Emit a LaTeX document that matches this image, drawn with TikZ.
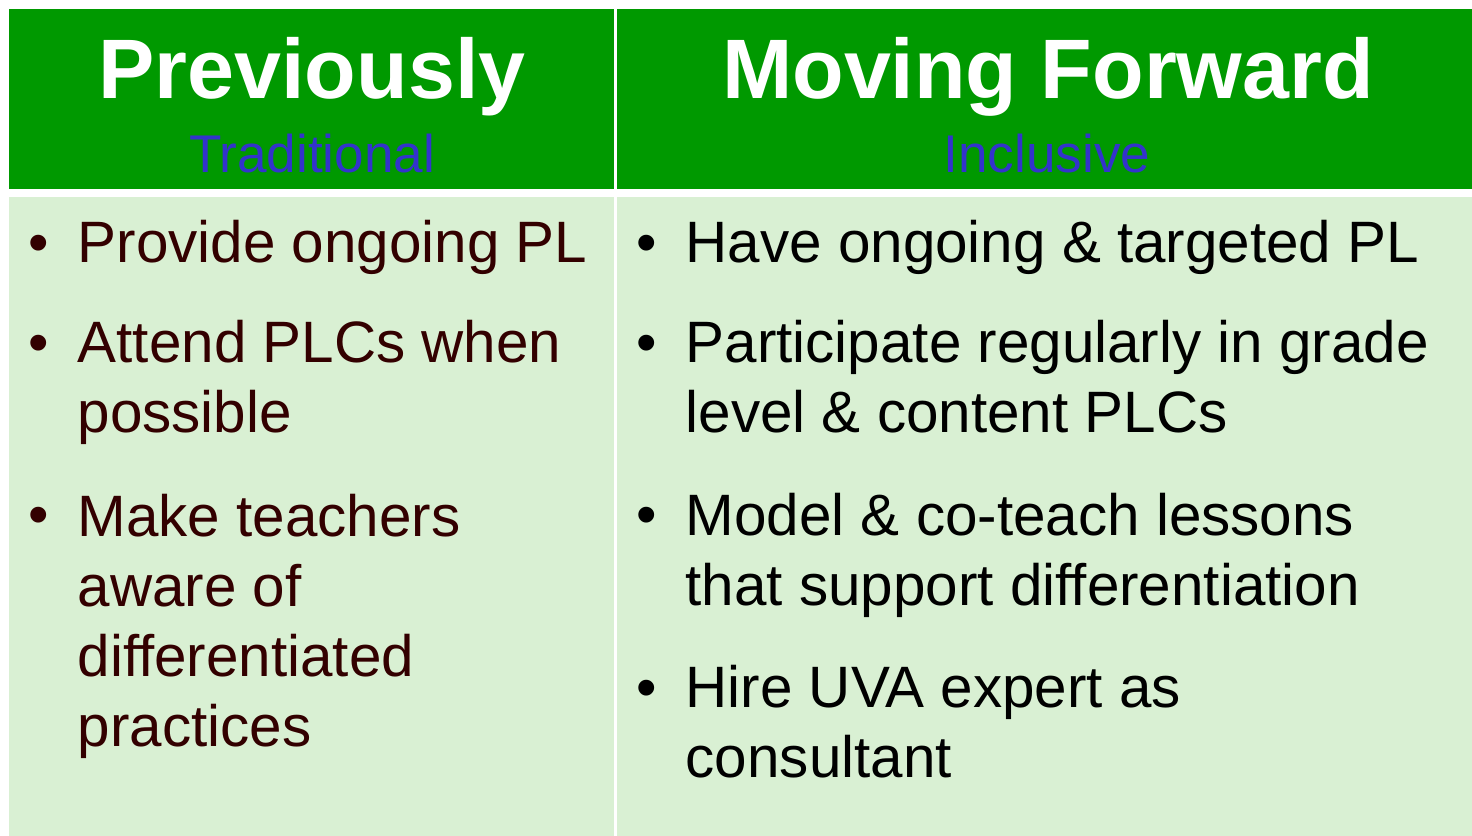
\documentclass[tikz,border=0pt]{standalone}
\usepackage{fontspec}
\setmainfont{Liberation Sans}
\usetikzlibrary{positioning}
\definecolor{headgreen}{RGB}{0,153,0}
\definecolor{bodygreen}{RGB}{217,240,211}
\definecolor{subblue}{RGB}{51,51,204}
\definecolor{olddark}{RGB}{51,0,0}
\newcommand{\itemfont}{\fontsize{16.6}{19.9}\selectfont}
\tikzset{
  headtext/.style={text=white, font=\fontsize{24}{29}\selectfont\bfseries, inner sep=0pt, anchor=base},
  subtext/.style={text=subblue, font=\fontsize{15.1}{18}\selectfont, inner sep=0pt, anchor=base},
  itemtext/.style={font=\itemfont, inner sep=0pt, anchor=base west, align=left},
  itemdot/.style={font=\itemfont, inner sep=0pt, anchor=base west},
}

\begin{document}
\begin{tikzpicture}[x=0.01cm, y=-0.01cm]

	% page
	\fill[white] (0,0) rectangle (1472,836);
	\useasboundingbox (0,0) rectangle (1472,836);

	% header cells
	\fill[headgreen] (9,9) rectangle (614,189);
	\fill[headgreen] (617,9) rectangle (1472,189);

	% body cells
	\fill[bodygreen] (9,197) rectangle (614,836);
	\fill[bodygreen] (617,197) rectangle (1472,836);

	% headings
	\node[headtext] (prev) at (312,98) {Previously};
	\node[subtext] (trad) at (312,172) {Traditional};
	\node[headtext] (fwd) at (1048,98) {Moving Forward};
	\node[subtext] (incl) at (1047,172) {Inclusive};

	% previously (multi-line items sit on their last line)
	\begin{scope}[text=olddark]
		\node[itemdot] (pdot1) at (28,262) {\textbullet};
		\node[itemtext] (pitem1) at (77,262) {Provide ongoing PL};
		\node[itemdot] (pdot2) at (28,362) {\textbullet};
		\node[itemtext] (pitem2) at (77,432) {Attend PLCs when\\possible};
		\node[itemdot] (pdot3) at (28,534) {\textbullet};
		\node[itemtext] (pitem3) at (77,746) {Make teachers\\aware of\\differentiated\\practices};
	\end{scope}

	% moving forward
	\begin{scope}[text=black]
		\node[itemdot] (fdot1) at (636,262) {\textbullet};
		\node[itemtext] (fitem1) at (685,262) {Have ongoing \& targeted PL};
		\node[itemdot] (fdot2) at (636,362) {\textbullet};
		\node[itemtext] (fitem2) at (685,432) {Participate regularly in grade\\level \& content PLCs};
		\node[itemdot] (fdot3) at (636,534) {\textbullet};
		\node[itemtext] (fitem3) at (685,605) {Model \& co-teach lessons\\that support differentiation};
		\node[itemdot] (fdot4) at (636,707) {\textbullet};
		\node[itemtext] (fitem4) at (685,777) {Hire UVA expert as\\consultant};
	\end{scope}

\end{tikzpicture}
\end{document}
